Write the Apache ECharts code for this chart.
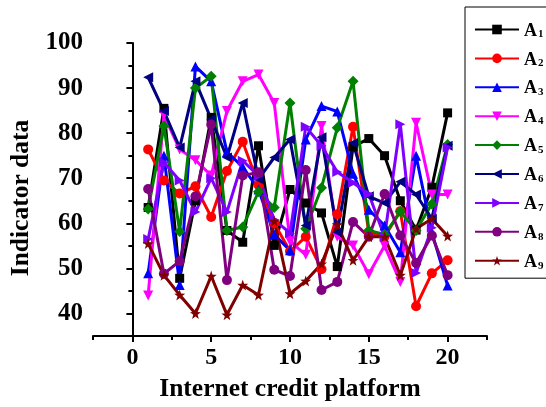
<!DOCTYPE html>
<html>
<head>
<meta charset="utf-8">
<script src="https://cdn.jsdelivr.net/npm/echarts@6/dist/echarts.min.js"></script>
<style>
  html, body { margin: 0; padding: 0; background: #fff; }
  #chart { width: 546px; height: 407px; }
</style>
</head>
<body>
<div id="chart"></div>
<script>
// Platforms on the horizontal axis
const platforms = [1, 2, 3, 4, 5, 6, 7, 8, 9, 10, 11, 12, 13, 14, 15, 16, 17, 18, 19, 20];

// Indicator values for each platform, one list per indicator
const A1 = [63.5, 85.5, 47.8, 65, 83.5, 58.4, 55.8, 77.2, 55.1, 67.5, 64.5, 62.3, 50.4, 77, 78.8, 75, 65, 58.5, 68, 84.5];
const A2 = [76.4, 69.5, 66.6, 68.2, 61.4, 71.6, 78.1, 68.5, 60, 53.8, 57, 49.8, 62, 81.4, 58, 57, 62.7, 41.6, 48.9, 51.8];
const A3 = [48.9, 75, 46.3, 94.8, 91.5, 75.8, 72.5, 67.5, 57.5, 54, 78.6, 86, 84.8, 71, 63, 59.5, 53.6, 75, 58, 46.2];
const A4 = [44, 84, 76.4, 74, 70.6, 84.9, 91.5, 93, 86.7, 56, 53, 81.6, 57, 55.1, 48.7, 55, 47, 82.3, 66.4, 66.4];
const A5 = [63.2, 81.6, 58.2, 90, 92.6, 58.4, 59.2, 67, 63.5, 86.7, 58.8, 67.9, 81.2, 91.5, 58.4, 57.5, 62.6, 58.4, 64.3, 77.5];
const A6 = [92.4, 84.9, 76.8, 91.5, 83.1, 74.6, 86.7, 69.8, 74.6, 78.6, 59.5, 79.1, 58, 77.8, 66, 64.5, 69.2, 66.4, 61, 77.2];
const A7 = [56.5, 73.5, 69.5, 62.5, 70, 62.5, 73.9, 70.5, 60.8, 57.8, 81.4, 77.2, 71.4, 69, 66.5, 57, 82, 49, 59, 76.8];
const A8 = [67.6, 48.8, 51.6, 66, 81.9, 47.4, 70.6, 71.3, 49.7, 48.3, 71.8, 45.2, 47, 60.3, 57, 66.5, 57.3, 51.2, 57.3, 48.5];
const A9 = [55.5, 48.5, 44.1, 40, 48.3, 39.7, 46.3, 44.1, 60.5, 44.4, 47.2, 51, 59.7, 51.8, 57, 57, 48.5, 58.8, 61, 57.2];

const seriesNames = ['A1', 'A2', 'A3', 'A4', 'A5', 'A6', 'A7', 'A8', 'A9'];
const seriesValues = [A1, A2, A3, A4, A5, A6, A7, A8, A9];

// Axis tick positions
const xMajorTicks = [0, 5, 10, 15, 20];
const xMinorTicks = [-2.5, 2.5, 7.5, 12.5, 17.5, 22.5];
const yMajorTicks = [40, 50, 60, 70, 80, 90, 100];
const yMinorTicks = [35, 45, 55, 65, 75, 85, 95];

// Five-pointed star marker
function starPath() {
  let d = '';
  for (let k = 0; k < 10; k++) {
    const r = k % 2 === 0 ? 10 : 4;
    const a = (-90 + k * 36) * Math.PI / 180;
    const x = (10 + r * Math.cos(a)).toFixed(2);
    const y = (10 + r * Math.sin(a)).toFixed(2);
    d += (k === 0 ? 'M' : 'L') + x + ',' + y;
  }
  return 'path://' + d + 'Z';
}

const colors = ['#000000', '#ff0000', '#0000ff', '#ff00ff', '#008000', '#000080', '#8000ff', '#800080', '#800000'];
const symbols = [
  'rect',
  'circle',
  'path://M5,0L10,9L0,9Z',
  'path://M0,0L10,0L5,9Z',
  'diamond',
  'path://M10,0L10,10L1,5Z',
  'path://M0,0L0,10L9,5Z',
  'circle',
  starPath()
];
const symbolSizes = [9, 10, 10, 10, 11, 10, 10, 10, 11];

const fontFamily = '"Liberation Serif", "Times New Roman", serif';

const chart = echarts.init(document.getElementById('chart'), null, { renderer: 'canvas' });

const series = seriesNames.map((name, i) => ({
  name: name,
  type: 'line',
  xAxisIndex: 0,
  yAxisIndex: 0,
  data: platforms.map((p, j) => [p, seriesValues[i][j]]),
  symbol: symbols[i],
  symbolSize: symbolSizes[i],
  showAllSymbol: true,
  lineStyle: { width: 3, color: colors[i] },
  itemStyle: { color: colors[i] },
  clip: false,
  animation: false
}));

const axisLineStyle = { show: true, lineStyle: { color: '#000', width: 2 } };

chart.setOption({
  animation: false,
  backgroundColor: '#fff',
  grid: { left: 90, right: 59, top: 43, bottom: 70, containLabel: false },
  legend: {
    orient: 'vertical',
    left: 465,
    top: 7,
    padding: [15, 30, 7, 9],
    itemWidth: 44,
    itemHeight: 12,
    itemGap: 10.9,
    borderColor: '#000',
    borderWidth: 1,
    backgroundColor: '#fff',
    data: seriesNames,
    formatter: function (name) {
      return '{a|A}{b|' + name.slice(1) + '}';
    },
    textStyle: {
      rich: {
        a: { fontFamily: fontFamily, fontWeight: 'bold', fontSize: 18, color: '#000', lineHeight: 21, verticalAlign: 'bottom' },
        b: { fontFamily: fontFamily, fontWeight: 'bold', fontSize: 11, color: '#000', lineHeight: 10, verticalAlign: 'bottom', padding: [0, 0, 0, 1] }
      }
    }
  },
  xAxis: [
    {
      type: 'value',
      position: 'bottom',
      min: -2.5,
      max: 22.5,
      splitLine: { show: false },
      axisLine: axisLineStyle,
      axisTick: { show: true, inside: false, length: 6, lineStyle: { width: 2, color: '#000' }, customValues: xMajorTicks },
      axisLabel: { show: true, margin: 10, customValues: xMajorTicks, fontFamily: fontFamily, fontWeight: 'bold', fontSize: 24, color: '#000' },
      name: 'Internet credit platform',
      nameLocation: 'middle',
      nameGap: 40,
      nameTextStyle: { fontFamily: fontFamily, fontWeight: 'bold', fontSize: 25.5, color: '#000' }
    },
    {
      type: 'value',
      position: 'bottom',
      offset: 0,
      min: -2.5,
      max: 22.5,
      splitLine: { show: false },
      axisLine: { show: false },
      axisTick: { show: true, inside: false, length: 4, lineStyle: { width: 2, color: '#000' }, customValues: xMinorTicks },
      axisLabel: { show: false }
    }
  ],
  yAxis: [
    {
      type: 'value',
      position: 'left',
      min: 35,
      max: 100,
      splitLine: { show: false },
      axisLine: axisLineStyle,
      axisTick: { show: true, inside: false, length: 6, lineStyle: { width: 2, color: '#000' }, customValues: yMajorTicks },
      axisLabel: { show: true, margin: 10, customValues: yMajorTicks, fontFamily: fontFamily, fontWeight: 'bold', fontSize: 25, color: '#000' },
      name: 'Indicator data',
      nameLocation: 'middle',
      nameGap: 59,
      nameRotate: 90,
      nameTextStyle: { fontFamily: fontFamily, fontWeight: 'bold', fontSize: 25.5, color: '#000', padding: [0, 17, 0, 0] }
    },
    {
      type: 'value',
      position: 'left',
      offset: 0,
      min: 35,
      max: 100,
      splitLine: { show: false },
      axisLine: { show: false },
      axisTick: { show: true, inside: false, length: 4, lineStyle: { width: 2, color: '#000' }, customValues: yMinorTicks },
      axisLabel: { show: false }
    }
  ],
  series: series
});
</script>
</body>
</html>
